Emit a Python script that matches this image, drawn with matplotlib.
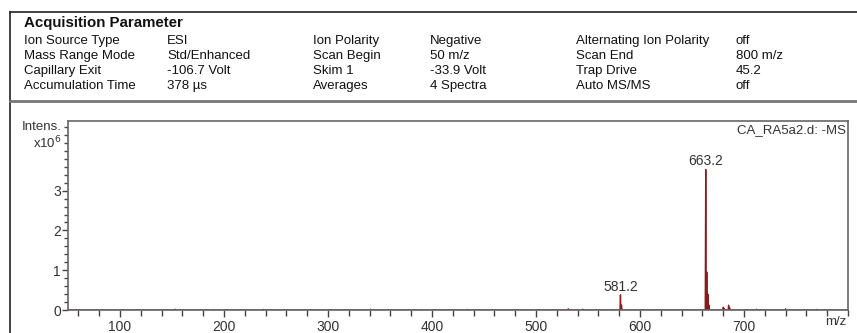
import matplotlib.pyplot as plt
import numpy as np

plt.rcParams['font.family'] = ['Liberation Sans', 'DejaVu Sans']

# acquisition parameter table (label, value) in three column pairs
col1_labels = ["Ion Source Type", "Mass Range Mode", "Capillary Exit", "Accumulation Time"]
col1_values = ["ESI", "Std/Enhanced", "-106.7 Volt", "378 µs"]
col2_labels = ["Ion Polarity", "Scan Begin", "Skim 1", "Averages"]
col2_values = ["Negative", "50 m/z", "-33.9 Volt", "4 Spectra"]
col3_labels = ["Alternating Ion Polarity", "Scan End", "Trap Drive", "Auto MS/MS"]
col3_values = ["off", "800 m/z", "45.2", "off"]

# spectrum peaks: m/z and intensity (x10^6)
peak_mz = [72, 118, 153, 190, 238, 283, 341, 390, 434, 480, 531, 545,
           581.2, 582.2, 663.2, 664.2, 665.2, 666.4, 680.1, 681.0, 685.2, 686.2, 712, 740, 770]
peak_int = [0.01, 0.012, 0.02, 0.012, 0.015, 0.01, 0.02, 0.012, 0.015, 0.012, 0.03, 0.02,
            0.38, 0.12, 3.53, 0.95, 0.40, 0.12, 0.07, 0.04, 0.12, 0.05, 0.02, 0.03, 0.015]
labels_mz = [581.2, 663.2]
labels_int = [0.38, 3.53]

fig = plt.figure(figsize=(8.57, 3.33), dpi=100)
W, H = 857, 333

def fx(px):
    return px / W

def fy(py):
    return 1 - py / H

# outer frame and separator
fig.add_artist(plt.Line2D([fx(10), fx(10)], [fy(12), 0], color='#222222', lw=1.2))
fig.add_artist(plt.Line2D([fx(10), 1], [fy(12), fy(12)], color='#222222', lw=1.2))
fig.add_artist(plt.Line2D([fx(10), 1], [fy(101), fy(101)], color='#777777', lw=2))

fig.text(fx(24), fy(23), "Acquisition Parameter", fontsize=10.8, fontweight='bold',
         va='center', color='#111111')
rows_y = [41, 56, 71, 86]
cols = [(24, col1_labels), (167, col1_values), (313, col2_labels),
        (430, col2_values), (576, col3_labels), (736, col3_values)]
for x, texts in cols:
    for y, t in zip(rows_y, texts):
        fig.text(fx(x), fy(y), t, fontsize=9.5, va='center', color='#111111')

ax = fig.add_axes([fx(68), fy(310), fx(848 - 68), (310 - 121) / H])

# build a profile trace from the peak list
xs = [50]
ys = [0]
for m, v in sorted(zip(peak_mz, peak_int)):
    xs += [m - 0.45, m, m + 0.45]
    ys += [0, v, 0]
xs.append(800)
ys.append(0)
ax.plot(xs, np.array(ys), color='#8b1a1a', lw=1.0)

for m, v in zip(labels_mz, labels_int):
    ax.text(m, v + 0.03, f"{m:.1f}", ha='center', va='bottom', fontsize=10, color='#333333')

ax.set_xlim(50, 800)
ax.set_ylim(0, 4.75)
ax.set_xticks([100, 200, 300, 400, 500, 600, 700])
ax.set_xticks(np.arange(60, 801, 20), minor=True)
ax.set_yticks([0, 1, 2, 3])
ax.set_yticks(np.arange(0, 4.7, 0.2), minor=True)
ax.tick_params(axis='both', which='both', colors='#444444', labelcolor='#333333',
               labelsize=10, width=1)
ax.tick_params(axis='x', which='major', length=5, pad=2)
ax.tick_params(axis='x', which='minor', length=4)
ax.tick_params(axis='y', which='major', length=4, pad=1)
ax.tick_params(axis='y', which='minor', length=3)
for s in ax.spines.values():
    s.set_color('#666666')
    s.set_linewidth(1.2)

ax.text(0.998, 0.985, "CA_RA5a2.d: -MS", transform=ax.transAxes, ha='right', va='top',
        fontsize=9.5, color='#333333')
fig.text(fx(62), fy(127), "Intens.", ha='right', va='center', fontsize=9.5, color='#333333')
fig.text(fx(62), fy(143), r"x10$^{6}$", ha='right', va='center', fontsize=9.5, color='#333333')
fig.text(fx(846), fy(322), "m/z", ha='right', va='center', fontsize=9.5, color='#333333')

fig.savefig('out.png', dpi=100)
